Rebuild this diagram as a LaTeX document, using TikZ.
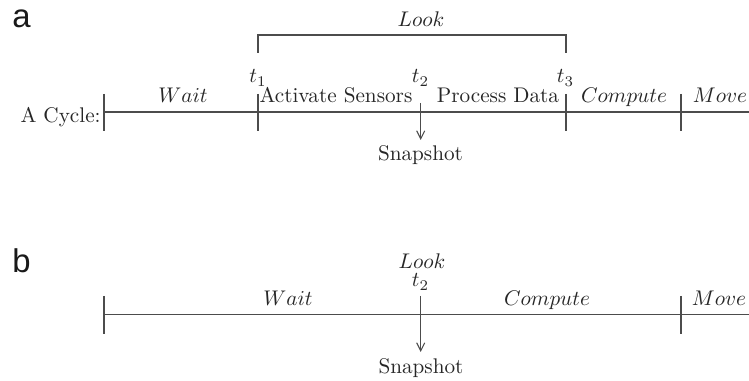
\documentclass[tikz,border=0pt]{standalone}
\usepackage{fontspec}
\newfontfamily\labfont{Liberation Sans}
\usetikzlibrary{arrows.meta}
\begin{document}
\begin{tikzpicture}[x=0.4717pt,y=-0.4717pt,
  ln/.style={draw=black!70, line width=0.5pt},
  lbl/.style={inner sep=0pt, anchor=base, text=black!85},
  arr/.style={ln, -{Straight Barb[length=3.8pt,width=3.8pt]}},
  panel/.style={inner sep=0pt, anchor=base west, text=black!90, font=\labfont\fontsize{15.5}{17}\selectfont}]
\useasboundingbox (0,0) rectangle (749,381);

% ---------- panel a ----------
\node[panel] (pa) at (12,28) {a};
\coordinate (a0) at (104,112);
\coordinate (aend) at (749,112);
\draw[ln] (a0) -- (aend);
\draw[ln] (104,94) -- (104,131);
\draw[ln] (258,94) -- (258,131);
\draw[ln] (566,94) -- (566,131);
\draw[ln] (681,94) -- (681,131);
% Look bracket
\draw[ln] (258,53) -- (258,35) -- (566,35) -- (566,53);
\node[lbl] (looka) at (421,27) {$Look$};
% time labels
\node[lbl] (t1) at (258,83) {$t_1$};
\node[lbl] (t2a) at (420.5,83) {$t_2$};
\node[lbl] (t3) at (565.5,83) {$t_3$};
% phase labels
\node[lbl, anchor=base east] (cyc) at (101,122.7) {A Cycle:};
\node[lbl] (waita) at (183,102.5) {$Wait$};
\node[lbl] (act) at (336,102.5) {Activate Sensors};
\node[lbl] (proc) at (498,102.5) {Process Data};
\node[lbl] (compa) at (624,102.5) {$Compute$};
\node[lbl] (movea) at (720,102.5) {$Move$};
% snapshot
\node[lbl] (snapa) at (420.5,160.7) {Snapshot};
\coordinate (arra) at (420.7,103);
\coordinate (arraend) at (420.7,140);
\draw[arr] (arra) -- (arraend);

% ---------- panel b ----------
\node[panel] (pb) at (12,273) {b};
\coordinate (b0) at (104,314.3);
\coordinate (bend) at (749,314.3);
\draw[ln] (b0) -- (bend);
\draw[ln] (104,296) -- (104,334);
\draw[ln] (681,296) -- (681,334);
\node[lbl] (lookb) at (422,268.3) {$Look$};
\node[lbl] (t2b) at (420.5,287) {$t_2$};
\node[lbl] (waitb) at (288,306) {$Wait$};
\node[lbl] (compb) at (547,306) {$Compute$};
\node[lbl] (moveb) at (719,306) {$Move$};
\node[lbl] (snapb) at (421,373.3) {Snapshot};
\coordinate (arrb) at (420.7,296);
\coordinate (arrbend) at (420.7,352);
\draw[arr] (arrb) -- (arrbend);
\end{tikzpicture}
\end{document}
